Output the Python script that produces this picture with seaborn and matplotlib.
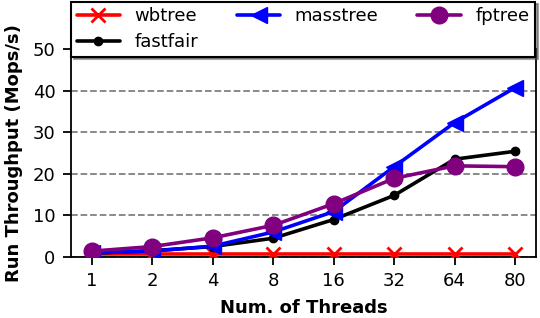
import matplotlib
matplotlib.use("Agg")
import matplotlib.pyplot as plt
import seaborn as sns
import pandas as pd

threads = ["1", "2", "4", "8", "16", "32", "64", "80"]
wbtree = [0.8, 0.8, 0.8, 0.8, 0.8, 0.8, 0.8, 0.8]
fastfair = [0.9, 1.5, 2.5, 4.5, 9.0, 14.8, 23.5, 25.4]
masstree = [1.0, 1.4, 2.6, 6.0, 10.9, 21.7, 32.3, 40.7]
fptree = [1.4, 2.5, 4.6, 7.6, 12.8, 18.9, 21.9, 21.7]

names = ["wbtree", "fastfair", "masstree", "fptree"]
series = [wbtree, fastfair, masstree, fptree]
colors = {"wbtree": "red", "fastfair": "black", "masstree": "blue", "fptree": "purple"}
markers = {"wbtree": "x", "fastfair": "o", "masstree": "<", "fptree": "o"}
msizes = {"wbtree": 10, "fastfair": 6, "masstree": 12, "fptree": 12}

rows = []
for n, vals in zip(names, series):
    for i, v in enumerate(vals):
        rows.append({"pos": i, "thr": v, "tree": n})
df = pd.DataFrame(rows)

sns.set_style("ticks")
plt.rcParams["font.family"] = ["DejaVu Sans"]
plt.rcParams["font.size"] = 13
for k in ["text.color", "axes.labelcolor", "xtick.color", "ytick.color"]:
    plt.rcParams[k] = "black"

fig, ax = plt.subplots(figsize=(5.4, 3.18), dpi=100)
for n in names:
    sns.lineplot(data=df[df["tree"] == n], x="pos", y="thr", ax=ax, color=colors[n],
                 marker=markers[n], markersize=msizes[n], linewidth=2.6,
                 markeredgewidth=2 if n == "wbtree" else 1, markeredgecolor=colors[n],
                 label=n, zorder=3)

ax.set_xticks(range(len(threads)))
ax.set_xticklabels(threads)
ax.set_ylim(0, 50)
ax.set_yticks([0, 10, 20, 30, 40, 50])
ax.set_xlim(-0.35, 7.35)
ax.yaxis.grid(True, linestyle="--", color="gray", linewidth=1.3)
ax.tick_params(labelsize=13, width=1.3, length=6, pad=5)
for s in ax.spines.values():
    s.set_linewidth(1.3)
    s.set_color("black")
ax.set_xlabel("Num. of Threads", fontsize=13, fontweight="bold", labelpad=6)
ax.set_ylabel("Run Throughput (Mops/s)", fontsize=13, fontweight="bold", labelpad=7)

h, l = ax.get_legend_handles_labels()
leg = ax.legend(h, l, ncol=3, loc="upper center", bbox_to_anchor=(0.499, 1.228),
                fancybox=False, shadow=True, edgecolor="black", fontsize=13,
                handlelength=2.4, borderaxespad=0, framealpha=1,
                labelspacing=0.45, borderpad=0.3, columnspacing=2.15)
leg.get_frame().set_linewidth(1.5)

fig.subplots_adjust(left=0.131, right=0.993, bottom=0.192, top=0.846)
fig.savefig("out.png", dpi=100)
